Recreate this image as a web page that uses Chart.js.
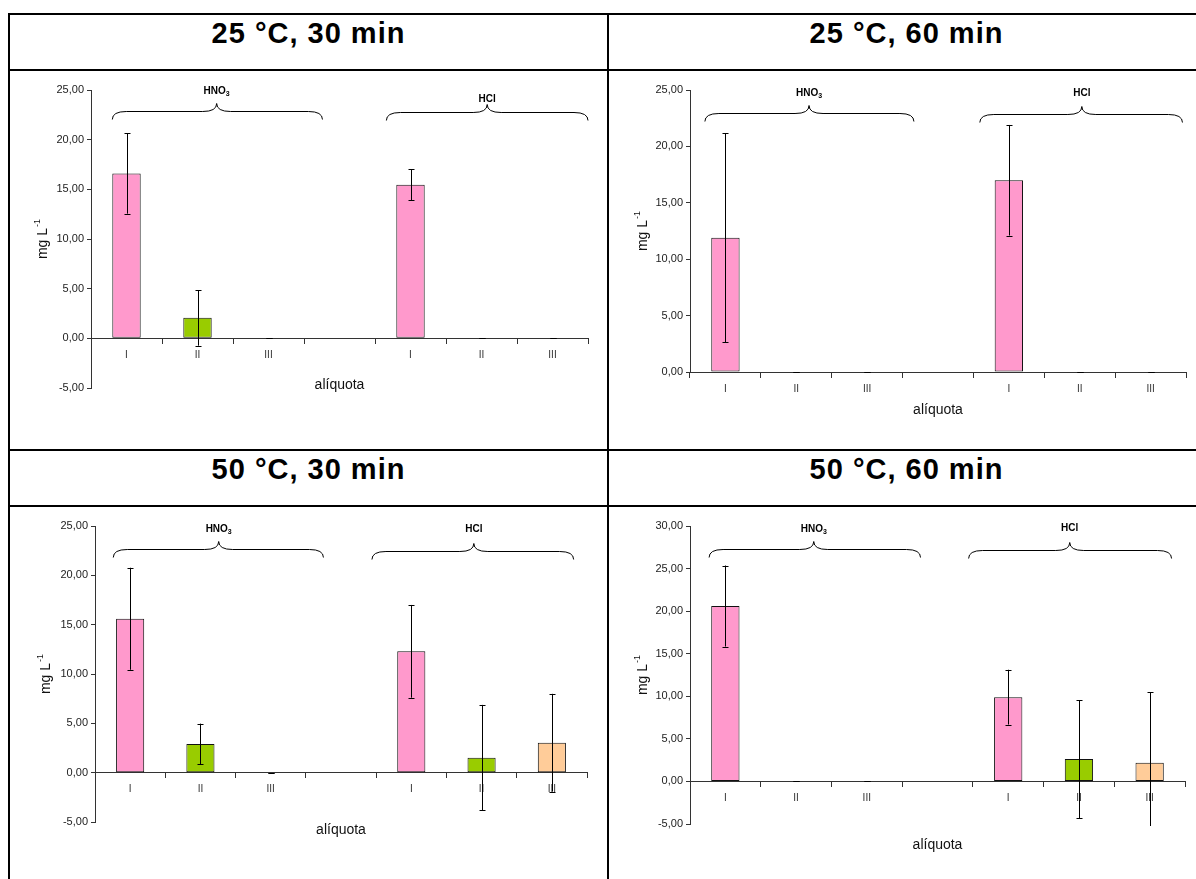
<!DOCTYPE html>
<html>
<head>
<meta charset="UTF-8">
<title>Alíquotas - HNO3 / HCl</title>
<script src="https://cdn.jsdelivr.net/npm/chart.js@4.4.1/dist/chart.umd.min.js"></script>
<style>
  body { margin: 0; background: #fff; width: 1196px; height: 879px; overflow: hidden; position: relative;
         font-family: "Liberation Sans", Arial, sans-serif; }
  .line { position: absolute; background: #000; }
  .head { position: absolute; text-align: center; font-weight: bold; font-size: 29px; line-height: 30px; letter-spacing: 1px; }
  canvas { position: absolute; }
</style>
</head>
<body>
  <!-- table frame -->
  <div class="line" style="left:8px; top:13px; width:1188px; height:2px"></div>
  <div class="line" style="left:8px; top:69px; width:1188px; height:2px"></div>
  <div class="line" style="left:8px; top:449px; width:1188px; height:2px"></div>
  <div class="line" style="left:8px; top:505px; width:1188px; height:2px"></div>
  <div class="line" style="left:8px; top:13px; width:2px; height:866px"></div>
  <div class="line" style="left:607px; top:13px; width:2px; height:866px"></div>

  <div class="head" style="left:10px; top:18px; width:597px">25 °C, 30 min</div>
  <div class="head" style="left:609px; top:18px; width:595px">25 °C, 60 min</div>
  <div class="head" style="left:10px; top:454px; width:597px">50 °C, 30 min</div>
  <div class="head" style="left:609px; top:454px; width:595px">50 °C, 60 min</div>

  <canvas id="c1" width="597" height="378" style="left:10px; top:71px"></canvas>
  <canvas id="c2" width="587" height="378" style="left:609px; top:71px"></canvas>
  <canvas id="c3" width="597" height="372" style="left:10px; top:507px"></canvas>
  <canvas id="c4" width="587" height="372" style="left:609px; top:507px"></canvas>

<script>
// categories: three aliquots for HNO3, an empty slot, three aliquots for HCl
const aliquotas = ['I', 'II', 'III', '', 'I', 'II', 'III'];

// mean concentration (mg/L) and standard deviation per aliquot
const media25c30  = [16.6, 2.06, 0, null, 15.46, 0, 0];
const desvio25c30 = [4.05, 2.8, 0, null, 1.56, 0, 0];

const media25c60  = [11.9, 0, 0, null, 17.0, 0, 0];
const desvio25c60 = [9.25, 0, 0, null, 4.9, 0, 0];

const media50c30  = [15.6, 2.9, 0, null, 12.3, 1.52, 3.04];
const desvio50c30 = [5.17, 2.07, 0, null, 4.7, 5.35, 4.95];

const media50c60  = [20.6, 0, 0, null, 9.9, 2.62, 2.19];
const desvio50c60 = [4.76, 0, 0, null, 3.22, 6.93, 8.3];

const barColors = ['#FF99CC', '#99CC00', '#FFCC99', 'rgba(0,0,0,0)', '#FF99CC', '#99CC00', '#FFCC99'];

const FONT = '"Liberation Sans", Arial, sans-serif';

// error bars, acid braces and axis titles
const extrasPlugin = {
  id: 'extras',
  afterDatasetsDraw(chart, args, opts) {
    const ctx = chart.ctx;
    const y = chart.scales.y;
    const area = chart.chartArea;
    const meta = chart.getDatasetMeta(0);
    const means = chart.data.datasets[0].data;
    ctx.save();
    ctx.strokeStyle = '#000';
    ctx.lineWidth = 1;
    opts.errors.forEach((sd, i) => {
      const m = means[i];
      if (m === null || sd === null) return;
      const cx = Math.round(meta.data[i].x) + 0.5;
      let top = y.getPixelForValue(m + sd);
      let bot = y.getPixelForValue(m - sd);
      let capTop = true, capBot = true;
      if (top < area.top - 2) { top = area.top - 2; capTop = false; }
      if (bot > area.bottom + 2) { bot = area.bottom + 2; capBot = false; }
      ctx.beginPath();
      ctx.moveTo(cx, top);
      ctx.lineTo(cx, bot);
      if (capTop) { ctx.moveTo(cx - 3, Math.round(top) + 0.5); ctx.lineTo(cx + 3, Math.round(top) + 0.5); }
      if (capBot) { ctx.moveTo(cx - 3, Math.round(bot) + 0.5); ctx.lineTo(cx + 3, Math.round(bot) + 0.5); }
      ctx.stroke();
    });
    ctx.restore();
  },
  afterDraw(chart, args, opts) {
    const ctx = chart.ctx;
    const area = chart.chartArea;
    const ox = opts.origin[0], oy = opts.origin[1];
    const cat = (area.right - area.left) / aliquotas.length;
    const px = u => area.left + u * cat;

    ctx.save();
    ctx.strokeStyle = '#000';
    ctx.lineWidth = 1;
    opts.braces.forEach(b => {
      const x0 = px(b.from), x1 = px(b.to), xt = px(b.tip);
      const yl = b.line - oy + 0.5;
      const r = 14, d = 8;
      ctx.beginPath();
      ctx.moveTo(x0, yl + d);
      ctx.quadraticCurveTo(x0, yl, x0 + r, yl);
      ctx.lineTo(xt - r, yl);
      ctx.quadraticCurveTo(xt, yl, xt, yl - d);
      ctx.quadraticCurveTo(xt, yl, xt + r, yl);
      ctx.lineTo(x1 - r, yl);
      ctx.quadraticCurveTo(x1, yl, x1, yl + d);
      ctx.stroke();

      // acid name, with subscript when needed
      ctx.fillStyle = '#000';
      ctx.textBaseline = 'middle';
      ctx.textAlign = 'left';
      ctx.font = 'bold 10px ' + FONT;
      const wMain = ctx.measureText(b.name).width;
      ctx.font = 'bold 7px ' + FONT;
      const wSub = b.sub ? ctx.measureText(b.sub).width : 0;
      const lx = xt - (wMain + wSub) / 2;
      const ly = b.labelY - oy;
      ctx.font = 'bold 10px ' + FONT;
      ctx.fillText(b.name, lx, ly);
      if (b.sub) {
        ctx.font = 'bold 7px ' + FONT;
        ctx.fillText(b.sub, lx + wMain, ly + 3);
      }
    });

    // y title: mg L-1
    ctx.save();
    ctx.translate(opts.yTitleX - ox, (area.top + area.bottom) / 2);
    ctx.rotate(-Math.PI / 2);
    ctx.fillStyle = '#111';
    ctx.textBaseline = 'middle';
    ctx.textAlign = 'left';
    ctx.font = '14px ' + FONT;
    const wUnit = ctx.measureText('mg L').width;
    ctx.font = '9px ' + FONT;
    const wExp = ctx.measureText('-1').width;
    const sx = -(wUnit + wExp + 1) / 2;
    ctx.font = '14px ' + FONT;
    ctx.fillText('mg L', sx, 0);
    ctx.font = '9px ' + FONT;
    ctx.fillText('-1', sx + wUnit + 1, -5);
    ctx.restore();

    // x title
    ctx.fillStyle = '#111';
    ctx.font = '14px ' + FONT;
    ctx.textAlign = 'center';
    ctx.textBaseline = 'middle';
    ctx.fillText('alíquota', (area.left + area.right) / 2, opts.xTitleY - oy);
    ctx.restore();
  }
};

function makeChart(id, canvasBox, plot, yMin, yMax, means, sds, braces, yTitleX, xTitleY) {
  const [cx, cy, cw, ch] = canvasBox;
  return new Chart(document.getElementById(id), {
    type: 'bar',
    data: {
      labels: aliquotas,
      datasets: [{
        data: means,
        backgroundColor: barColors,
        borderColor: '#111',
        borderWidth: 1,
        borderSkipped: false,
        barPercentage: 0.4,
        categoryPercentage: 1
      }]
    },
    options: {
      responsive: false,
      animation: false,
      layout: {
        padding: { left: 0, top: plot.t - cy, right: cx + cw - plot.r, bottom: cy + ch - plot.b }
      },
      plugins: {
        legend: { display: false },
        tooltip: { enabled: false },
        extras: { origin: [cx, cy], errors: sds, braces: braces, yTitleX: yTitleX, xTitleY: xTitleY }
      },
      scales: {
        x: {
          position: { y: 0 },
          offset: true,
          grid: { offset: true, drawOnChartArea: false, drawTicks: true, tickLength: 5, color: '#333' },
          border: { color: '#333', width: 1 },
          ticks: { color: '#333', font: { family: FONT, size: 10 }, padding: 6, maxRotation: 0, autoSkip: false }
        },
        y: {
          min: yMin,
          max: yMax,
          grid: { drawOnChartArea: false, drawTicks: true, tickLength: 4, color: '#333' },
          border: { color: '#333', width: 1 },
          ticks: {
            stepSize: 5,
            color: '#222',
            padding: 3,
            font: { family: FONT, size: 11 },
            callback: v => v.toFixed(2).replace('.', ',')
          },
          afterFit(scale) { scale.width = plot.l - cx; }
        }
      }
    },
    plugins: [extrasPlugin]
  });
}

makeChart('c1', [10, 71, 597, 378], { l: 91, r: 588, t: 90, b: 388 }, -5, 25,
  media25c30, desvio25c30,
  [{ name: 'HNO', sub: '3', from: 0.30, to: 3.26, tip: 1.77, line: 111, labelY: 91 },
   { name: 'HCl', sub: '', from: 4.16, to: 7.0, tip: 5.58, line: 112, labelY: 99 }],
  43, 385);

makeChart('c2', [609, 71, 587, 378], { l: 690, r: 1186, t: 90, b: 372 }, 0, 25,
  media25c60, desvio25c60,
  [{ name: 'HNO', sub: '3', from: 0.21, to: 3.16, tip: 1.68, line: 113, labelY: 93 },
   { name: 'HCl', sub: '', from: 4.09, to: 6.95, tip: 5.53, line: 114, labelY: 93 }],
  643, 410);

makeChart('c3', [10, 507, 597, 372], { l: 95, r: 587, t: 526, b: 822 }, -5, 25,
  media50c30, desvio50c30,
  [{ name: 'HNO', sub: '3', from: 0.26, to: 3.25, tip: 1.76, line: 549, labelY: 529 },
   { name: 'HCl', sub: '', from: 3.94, to: 6.81, tip: 5.39, line: 551, labelY: 529 }],
  46, 830);

makeChart('c4', [609, 507, 587, 372], { l: 690, r: 1185, t: 526, b: 824 }, -5, 30,
  media50c60, desvio50c60,
  [{ name: 'HNO', sub: '3', from: 0.27, to: 3.26, tip: 1.75, line: 549, labelY: 529 },
   { name: 'HCl', sub: '', from: 3.94, to: 6.81, tip: 5.37, line: 550, labelY: 528 }],
  643, 845);
</script>
</body>
</html>
